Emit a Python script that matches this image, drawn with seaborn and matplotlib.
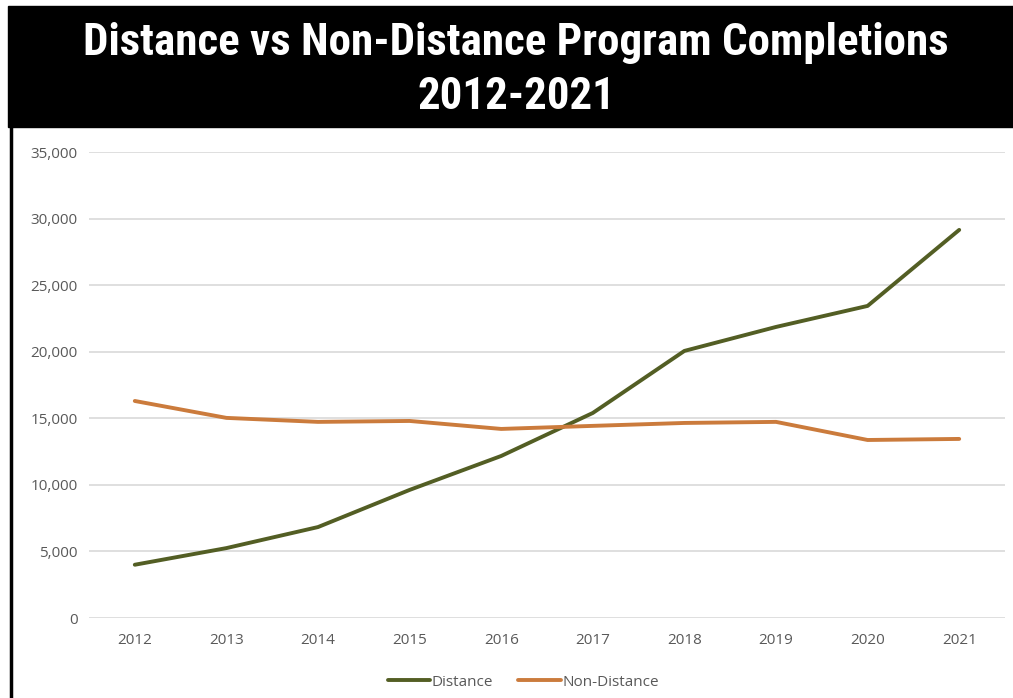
import matplotlib
matplotlib.use("Agg")
import matplotlib.pyplot as plt
import matplotlib.patches as patches
import seaborn as sns
import pandas as pd
from matplotlib.ticker import FuncFormatter

years = [2012, 2013, 2014, 2015, 2016, 2017, 2018, 2019, 2020, 2021]
distance = [4000, 5250, 6830, 9620, 12170, 15400, 20060, 21860, 23440, 29150]
non_distance = [16300, 15030, 14730, 14800, 14200, 14430, 14650, 14730, 13370, 13450]
series_names = ["Distance", "Non-Distance"]
series_colors = ["#535E24", "#CB7B3C"]

df = pd.DataFrame({
    "year": years * 2,
    "value": distance + non_distance,
    "series": [series_names[0]] * len(years) + [series_names[1]] * len(years),
})

sns.set_theme(style="white")
plt.rcParams['font.family'] = ['Open Sans', 'DejaVu Sans']

fig = plt.figure(figsize=(10.13, 6.98), dpi=100)
W, H = 1013, 698

# black title banner + left border
fig.patches.append(patches.Rectangle((8 / W, 1 - 127 / H), 1 - 8 / W, 121 / H,
                                     transform=fig.transFigure, color="black", zorder=0))
fig.lines.append(plt.Line2D([11 / W, 11 / W], [0, 1 - 127 / H], transform=fig.transFigure,
                            color="black", lw=2.5))
title_font = ['Roboto Condensed', 'Roboto', 'DejaVu Sans']
fig.text(516 / W, 1 - 43 / H, "Distance vs Non-Distance Program Completions",
         color="white", ha="center", va="center", fontsize=32.4, fontweight="bold",
         family=title_font)
fig.text(516 / W, 1 - 97 / H, "2012-2021",
         color="white", ha="center", va="center", fontsize=32.4, fontweight="bold",
         family=title_font)

ax = fig.add_axes([89 / W, 1 - 618 / H, (1005 - 89) / W, (618 - 152) / H])
sns.lineplot(data=df, x="year", y="value", hue="series", palette=series_colors,
             linewidth=2.8, ax=ax, legend=True)

ax.set_xlim(2011.5, 2021.5)
ax.set_ylim(0, 35000)
ax.set_xticks(years)
ax.set_yticks(range(0, 35001, 5000))
ax.yaxis.set_major_formatter(FuncFormatter(lambda v, p: f"{int(v):,}"))
ax.grid(axis="y", color="#D9D9D9", lw=1.2)
ax.set_axisbelow(True)
for s in ax.spines.values():
    s.set_visible(False)
ax.tick_params(axis="both", length=0, labelsize=11, labelcolor="#595959")
ax.tick_params(axis="y", pad=8)
ax.tick_params(axis="x", pad=11)
ax.set_xlabel("")
ax.set_ylabel("")

handles, labels = ax.get_legend_handles_labels()
ax.legend(handles, labels, loc="center", bbox_to_anchor=(0.474, -0.138), ncol=2,
          frameon=False, fontsize=11, labelcolor="#595959", handlelength=2.8,
          handletextpad=0.1, columnspacing=1.6)

fig.savefig("out.png", dpi=100)
